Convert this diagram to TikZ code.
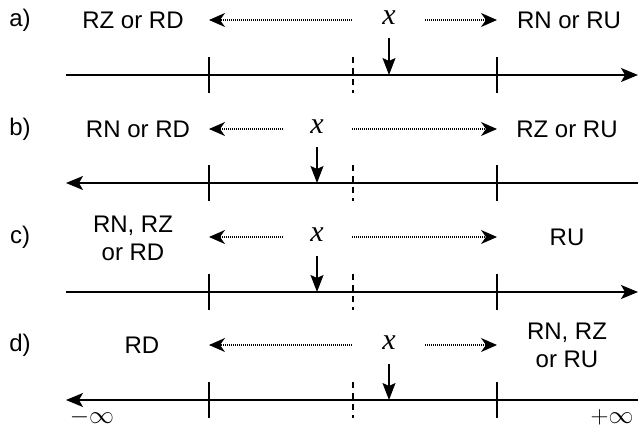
\documentclass[tikz,border=0pt]{standalone}
\usepackage{fontspec}
\setmainfont{Liberation Sans}
\newfontfamily\xserif{Liberation Serif}
\usetikzlibrary{arrows.meta}
\tikzset{
  lab/.style={font=\fontsize{24}{28}\selectfont, align=center, inner sep=0pt},
  xl/.style={font=\xserif\itshape\fontsize{30}{34}\selectfont, inner sep=0pt},
  axisline/.style={line width=1.4pt, -{Stealth[length=17pt,width=14pt,inset=4pt]}},
  tickline/.style={line width=1.4pt},
  dtickline/.style={line width=1.4pt, dash pattern=on 6pt off 5pt},
  dotarrow/.style={line width=1.3pt, dash pattern=on 1pt off 1pt, -{Stealth[length=16pt,width=14pt,inset=5pt]}},
  downarrow/.style={line width=1.4pt, -{Stealth[length=17pt,width=13pt,inset=3pt]}},
  inf/.style={font=\fontsize{25}{26}\selectfont, inner sep=0pt}
}
\begin{document}
\begin{tikzpicture}[x=1pt,y=-1pt]
\useasboundingbox (0,0) rectangle (639,428);
% ---------- row a ----------
\node[lab] (ra) at (20,20) {a)};
\node[lab] (la) at (133,20) {RZ or RD};
\node[lab] (ua) at (569,20) {RN or RU};
\node[xl] (xa) at (389,18) {x};
\coordinate (la1) at (352,20); \coordinate (la2) at (209,20);
\coordinate (ua1) at (425,20); \coordinate (ua2) at (497,20);
\draw[dotarrow] (la1) -- (la2);
\draw[dotarrow] (ua1) -- (ua2);
\coordinate (axa0) at (66,75); \coordinate (axa1) at (638,75);
\draw[axisline] (axa0) -- (axa1);
\draw[tickline] (209,57) -- (209,93);
\draw[tickline] (497,57) -- (497,93);
\draw[dtickline] (353,57) -- (353,93);
\coordinate (pa0) at (389,38); \coordinate (pa1) at (389,75);
\draw[downarrow] (pa0) -- (pa1);
% ---------- row b ----------
\node[lab] (rb) at (20,129) {b)};
\node[lab] (lb) at (138,129) {RN or RD};
\node[lab] (ub) at (567,129) {RZ or RU};
\node[xl] (xb) at (317,127) {x};
\coordinate (lb1) at (283,129); \coordinate (lb2) at (209,129);
\coordinate (ub1) at (352,129); \coordinate (ub2) at (497,129);
\draw[dotarrow] (lb1) -- (lb2);
\draw[dotarrow] (ub1) -- (ub2);
\coordinate (axb0) at (638,183); \coordinate (axb1) at (66,183);
\draw[axisline] (axb0) -- (axb1);
\draw[tickline] (209,165) -- (209,201);
\draw[tickline] (497,165) -- (497,201);
\draw[dtickline] (353,165) -- (353,201);
\coordinate (pb0) at (317,147); \coordinate (pb1) at (317,183);
\draw[downarrow] (pb0) -- (pb1);
% ---------- row c ----------
\node[lab] (rc) at (20,237) {c)};
\node[lab] (lc) at (133,238) {RN, RZ\\or RD};
\node[lab] (uc) at (567,237) {RU};
\node[xl] (xc) at (317,235) {x};
\coordinate (lc1) at (283,237); \coordinate (lc2) at (209,237);
\coordinate (uc1) at (352,237); \coordinate (uc2) at (497,237);
\draw[dotarrow] (lc1) -- (lc2);
\draw[dotarrow] (uc1) -- (uc2);
\coordinate (axc0) at (66,292); \coordinate (axc1) at (638,292);
\draw[axisline] (axc0) -- (axc1);
\draw[tickline] (209,274) -- (209,310);
\draw[tickline] (497,274) -- (497,310);
\draw[dtickline] (353,274) -- (353,310);
\coordinate (pc0) at (317,256); \coordinate (pc1) at (317,292);
\draw[downarrow] (pc0) -- (pc1);
% ---------- row d ----------
\node[lab] (rd) at (20,345) {d)};
\node[lab] (ld) at (142,345) {RD};
\node[lab] (ud) at (567,345) {RN, RZ\\or RU};
\node[xl] (xd) at (389,343) {x};
\coordinate (ld1) at (352,345); \coordinate (ld2) at (209,345);
\coordinate (ud1) at (425,345); \coordinate (ud2) at (497,345);
\draw[dotarrow] (ld1) -- (ld2);
\draw[dotarrow] (ud1) -- (ud2);
\coordinate (axd0) at (638,400); \coordinate (axd1) at (66,400);
\draw[axisline] (axd0) -- (axd1);
\draw[tickline] (209,382) -- (209,418);
\draw[tickline] (497,382) -- (497,418);
\draw[dtickline] (353,382) -- (353,418);
\coordinate (pd0) at (389,364); \coordinate (pd1) at (389,400);
\draw[downarrow] (pd0) -- (pd1);
% infinities
\node[inf] (ninf) at (92,417) {$-\infty$};
\node[inf] (pinf) at (612,417) {$+\infty$};
\end{tikzpicture}
\end{document}
